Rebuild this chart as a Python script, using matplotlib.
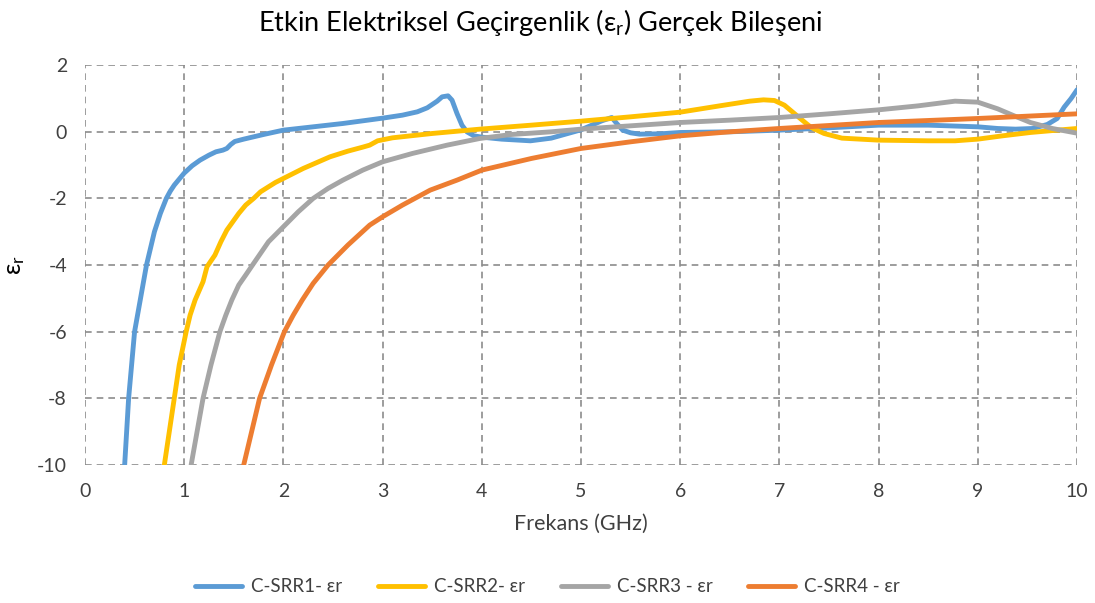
import numpy as np
import matplotlib
matplotlib.use("Agg")
import matplotlib.pyplot as plt

plt.rcParams['font.family'] = ['Lato', 'DejaVu Sans']
plt.rcParams['mathtext.fontset'] = 'custom'
plt.rcParams['mathtext.rm'] = 'Lato'
plt.rcParams['mathtext.it'] = 'Lato'
plt.rcParams['axes.unicode_minus'] = False

# C-SRR1
x1 = [0.40, 0.44, 0.50, 0.56, 0.62, 0.66, 0.70, 0.76, 0.82, 0.86, 0.90, 0.95, 1.0, 1.08, 1.16, 1.25,
      1.32, 1.39, 1.43, 1.47, 1.51, 1.6, 1.8, 2.0, 2.3, 2.6, 3.0, 3.2, 3.35, 3.45, 3.55, 3.6, 3.66,
      3.7, 3.75, 3.8, 3.85, 3.92, 4.0, 4.2, 4.49, 4.7, 5.0, 5.21, 5.31, 5.36, 5.42, 5.5, 5.59, 5.8,
      6.0, 6.5, 7.0, 7.5, 8.0, 8.5, 9.0, 9.2, 9.38, 9.55, 9.7, 9.8, 9.87, 9.94, 10.0]
y1 = [-10, -8, -6, -5, -4, -3.5, -3, -2.45, -2, -1.78, -1.6, -1.42, -1.24, -1.02, -0.85, -0.7,
      -0.6, -0.55, -0.5, -0.38, -0.29, -0.22, -0.08, 0.05, 0.15, 0.25, 0.41, 0.5, 0.6, 0.72, 0.92, 1.05, 1.08,
      0.95, 0.55, 0.2, 0.0, -0.12, -0.16, -0.22, -0.27, -0.19, 0.06, 0.33, 0.43, 0.25, 0.05, -0.03, -0.07, -0.06,
      -0.02, 0.0, 0.05, 0.12, 0.2, 0.2, 0.15, 0.1, 0.08, 0.1, 0.22, 0.4, 0.74, 1.0, 1.26]

# C-SRR2
x2 = [0.80, 0.90, 0.95, 1.02, 1.06, 1.11, 1.19, 1.23, 1.31, 1.37, 1.43, 1.55, 1.62, 1.7, 1.77, 1.85,
      1.92, 2.0, 2.2, 2.47, 2.65, 2.8, 2.87, 2.95, 3.1, 3.5, 3.98, 4.5, 5.0, 5.5, 6.0, 6.42, 6.7,
      6.84, 6.95, 7.05, 7.15, 7.25, 7.32, 7.45, 7.63, 8.0, 8.5, 8.77, 9.0, 9.25, 9.53, 9.8, 10.0]
y2 = [-10, -8, -7, -6, -5.5, -5.05, -4.5, -4.05, -3.7, -3.3, -2.95, -2.45, -2.2, -2.0, -1.8, -1.65,
      -1.52, -1.4, -1.1, -0.75, -0.58, -0.46, -0.4, -0.27, -0.18, -0.05, 0.08, 0.2, 0.32, 0.45, 0.59, 0.79, 0.92,
      0.96, 0.94, 0.8, 0.55, 0.3, 0.13, -0.05, -0.19, -0.25, -0.27, -0.27, -0.22, -0.12, -0.02, 0.05, 0.1]

# C-SRR3
x3 = [1.07, 1.13, 1.19, 1.27, 1.36, 1.42, 1.48, 1.55, 1.62, 1.7, 1.85, 2.0, 2.15, 2.3, 2.45, 2.6,
      2.8, 3.0, 3.3, 3.65, 3.98, 4.3, 4.7, 5.0, 5.5, 6.0, 6.5, 7.0, 7.5, 8.0, 8.4, 8.77, 9.0, 9.2,
      9.35, 9.53, 9.75, 10.0]
y3 = [-10, -9, -8, -7, -6, -5.5, -5.05, -4.6, -4.3, -3.95, -3.3, -2.85, -2.4, -2.0, -1.7, -1.45,
      -1.15, -0.9, -0.65, -0.4, -0.2, -0.08, 0.0, 0.08, 0.18, 0.28, 0.35, 0.43, 0.54, 0.66, 0.78, 0.92, 0.89, 0.69,
      0.5, 0.28, 0.1, -0.04]

# C-SRR4
x4 = [1.60, 1.68, 1.76, 1.88, 2.01, 2.1, 2.19, 2.3, 2.45, 2.65, 2.87, 3.0, 3.2, 3.48, 3.75, 4.0,
      4.5, 5.0, 5.5, 6.0, 6.5, 7.0, 7.5, 8.0, 8.5, 9.0, 9.5, 10.0]
y4 = [-10, -9, -8, -7, -6, -5.5, -5.05, -4.55, -4.0, -3.4, -2.8, -2.55, -2.2, -1.75, -1.45, -1.15,
      -0.8, -0.5, -0.3, -0.12, 0.0, 0.1, 0.19, 0.28, 0.34, 0.4, 0.47, 0.54]

labels = ['C-SRR1- εr', 'C-SRR2- εr', 'C-SRR3 - εr', 'C-SRR4 - εr']
colors = ['#5B9BD5', '#FFC000', '#A5A5A5', '#ED7D31']
xticks = [0, 1, 2, 3, 4, 5, 6, 7, 8, 9, 10]
yticks = [-10, -8, -6, -4, -2, 0, 2]

fig = plt.figure(figsize=(10.95, 6.03), dpi=100)
ax = fig.add_axes([0.0776, 0.2289, 0.906, 0.663])

series = [(x1, y1), (x2, y2), (x3, y3), (x4, y4)]
for (xs, ys), lab, c in zip(series, labels, colors):
    ax.plot(xs, ys, color=c, lw=3.5, label=lab, solid_capstyle='round', solid_joinstyle='round')

ax.set_xlim(0, 10)
ax.set_ylim(-10, 2)
ax.set_xticks(xticks)
ax.set_yticks(yticks)
ax.grid(True, color='#8C8C8C', lw=1.2, linestyle=(0, (4, 3)))
ax.set_axisbelow(True)
for s in ax.spines.values():
    s.set_visible(False)
ax.tick_params(length=0, labelsize=14, colors='#404040')
ax.tick_params(axis='x', pad=13)
ax.tick_params(axis='y', pad=13)

ax.set_xlabel('Frekans (GHz)', fontsize=15.5, color='#404040', labelpad=10)
ax.set_ylabel(r'$\mathregular{ε_r}$', fontsize=18, color='#000000')
ax.yaxis.set_label_coords(-0.058, 0.5)
fig.text(0.493, 0.962, r'Etkin Elektriksel Geçirgenlik ($\mathregular{ε_r}$) Gerçek Bileşeni',
         fontsize=19.5, color='#000000', ha='center', va='center')

fig.legend(loc='center', bbox_to_anchor=(0.5, 0.027), ncol=4, frameon=False,
           fontsize=13.5, handlelength=2.5, handletextpad=0.5, columnspacing=1.9,
           labelcolor='#404040')

fig.savefig('out.png', dpi=100)
